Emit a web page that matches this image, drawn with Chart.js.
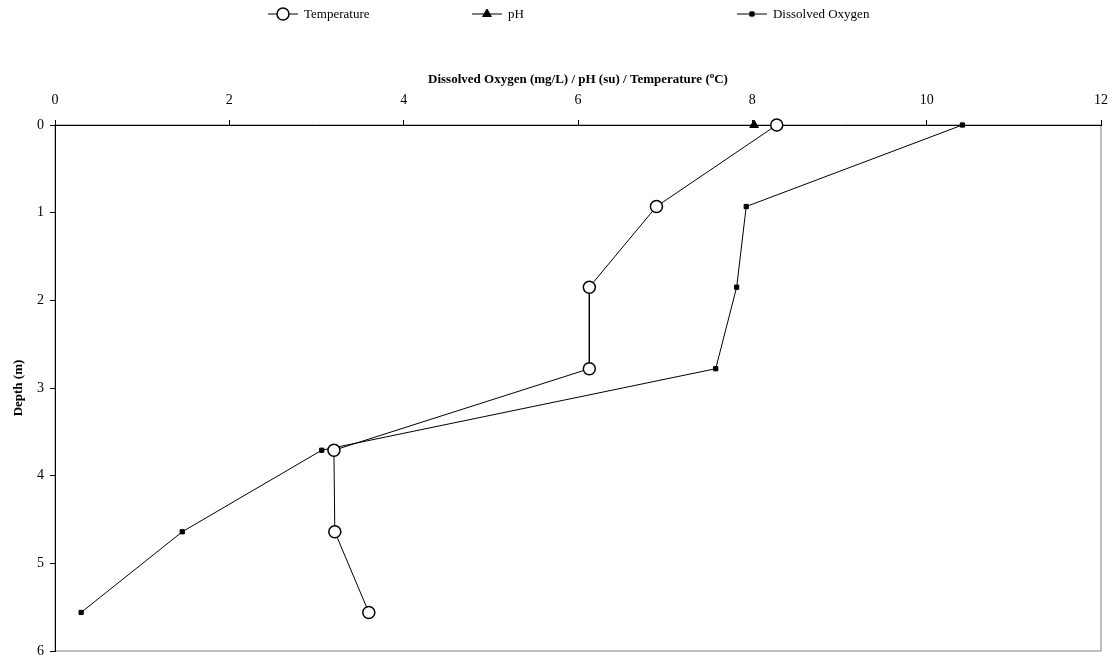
<!DOCTYPE html>
<html>
<head>
<meta charset="utf-8">
<script src="https://cdn.jsdelivr.net/npm/chart.js@4.4.1/dist/chart.umd.min.js"></script>
<style>
  html, body { margin: 0; padding: 0; background: #fff; }
  #wrap { width: 1119px; height: 669px; position: relative; }
</style>
</head>
<body>
<div id="wrap"><canvas id="grafico"></canvas></div>
<script>
// profundidades (m) y lecturas
const profundidad = [0, 0.93, 1.85, 2.78, 3.71, 4.64, 5.56];
const temperatura = [8.28, 6.90, 6.13, 6.13, 3.20, 3.21, 3.60];
const oxigeno = [10.41, 7.93, 7.82, 7.58, 3.06, 1.46, 0.30];
const phProfundidad = [0];
const ph = [8.02];

const xTicks = [0, 2, 4, 6, 8, 10, 12];
const yTicks = [0, 1, 2, 3, 4, 5, 6];
const etiquetas = ['Temperature', 'pH', 'Dissolved Oxygen'];

const fuente = "'Liberation Serif', 'Times New Roman', serif";

const aPuntos = (xs, ys) => xs.map((v, i) => ({ x: v, y: ys[i] }));

// leyenda estilo excel: linea + marcador + texto
const leyendaPlugin = {
    id: 'leyenda',
    afterDraw(chart) {
        const ctx = chart.ctx;
        const w = chart.width;
        const inicios = [0.2395 * w, 0.4218 * w, 0.6586 * w];
        const y = 14;
        ctx.save();
        ctx.font = `13px ${fuente}`;
        ctx.textBaseline = 'middle';
        chart.data.datasets.forEach((ds, i) => {
            const x0 = inicios[i];
            ctx.strokeStyle = '#000';
            ctx.lineWidth = 1;
            ctx.beginPath();
            ctx.moveTo(x0, y);
            ctx.lineTo(x0 + 30, y);
            ctx.stroke();
            ctx.fillStyle = ds.pointBackgroundColor;
            ctx.strokeStyle = ds.pointBorderColor;
            ctx.lineWidth = ds.pointBorderWidth;
            Chart.helpers.drawPoint(ctx, {
                pointStyle: ds.pointStyle,
                radius: ds.pointRadius,
                borderWidth: ds.pointBorderWidth
            }, x0 + 15, y);
            ctx.fillStyle = '#000';
            ctx.fillText(etiquetas[i], x0 + 36, y + 1);
        });
        ctx.restore();
    }
};

// borde del area de trazado + titulo del eje x con superindice
const marcoPlugin = {
    id: 'marco',
    beforeDraw(chart) {
        const { ctx, chartArea: a } = chart;
        ctx.save();
        ctx.strokeStyle = '#808080';
        ctx.lineWidth = 1;
        ctx.strokeRect(a.left, a.top, a.right - a.left, a.bottom - a.top);
        ctx.restore();
    },
    afterDraw(chart) {
        const { ctx, chartArea: a } = chart;
        const partes = ['Dissolved Oxygen (mg/L) / pH (su) / Temperature (', 'o', 'C)'];
        ctx.save();
        ctx.fillStyle = '#000';
        ctx.textBaseline = 'alphabetic';
        ctx.font = `bold 13px ${fuente}`;
        const w0 = ctx.measureText(partes[0]).width;
        const w2 = ctx.measureText(partes[2]).width;
        ctx.font = `bold 9px ${fuente}`;
        const w1 = ctx.measureText(partes[1]).width;
        let x = (a.left + a.right) / 2 - (w0 + w1 + w2) / 2;
        const y = 83;
        ctx.font = `bold 13px ${fuente}`;
        ctx.fillText(partes[0], x, y);
        x += w0;
        ctx.font = `bold 9px ${fuente}`;
        ctx.fillText(partes[1], x, y - 5);
        x += w1;
        ctx.font = `bold 13px ${fuente}`;
        ctx.fillText(partes[2], x, y);
        ctx.restore();
    }
};

const ctx = document.getElementById('grafico').getContext('2d');

new Chart(ctx, {
    type: 'line',
    data: {
        datasets: [
            {
                label: etiquetas[0],
                data: aPuntos(temperatura, profundidad),
                borderColor: '#000',
                borderWidth: 1,
                pointStyle: 'circle',
                pointRadius: 6,
                pointBorderWidth: 1.5,
                pointBackgroundColor: '#fff',
                pointBorderColor: '#000',
                clip: false
            },
            {
                label: etiquetas[1],
                data: aPuntos(ph, phProfundidad),
                borderColor: '#000',
                borderWidth: 1,
                pointStyle: 'triangle',
                pointRadius: 5,
                pointBorderWidth: 1,
                pointBackgroundColor: '#000',
                pointBorderColor: '#000',
                clip: false
            },
            {
                label: etiquetas[2],
                data: aPuntos(oxigeno, profundidad),
                borderColor: '#000',
                borderWidth: 1,
                pointStyle: 'rect',
                pointRadius: 3,
                pointBorderWidth: 1,
                pointBackgroundColor: '#000',
                pointBorderColor: '#000',
                clip: false
            }
        ]
    },
    options: {
        responsive: true,
        maintainAspectRatio: false,
        animation: false,
        layout: { padding: { top: 0, left: 0, right: 17, bottom: 18 } },
        plugins: {
            legend: { display: false },
            tooltip: { enabled: false }
        },
        scales: {
            x: {
                type: 'linear',
                position: 'top',
                min: xTicks[0],
                max: xTicks[xTicks.length - 1],
                ticks: {
                    stepSize: xTicks[1] - xTicks[0],
                    color: '#000',
                    font: { family: fuente, size: 14 },
                    padding: 11,
                    maxRotation: 0
                },
                grid: { drawOnChartArea: false, tickLength: 5, color: '#000' },
                border: { color: '#000', width: 1 },
                afterFit(scale) { scale.height = 125; }
            },
            y: {
                type: 'linear',
                reverse: true,
                min: yTicks[0],
                max: yTicks[yTicks.length - 1],
                ticks: {
                    stepSize: yTicks[1] - yTicks[0],
                    color: '#000',
                    font: { family: fuente, size: 14 },
                    padding: 6
                },
                title: {
                    display: true,
                    text: 'Depth (m)',
                    color: '#000',
                    font: { family: fuente, size: 13, weight: 'bold' },
                    padding: { top: 11, bottom: 0 }
                },
                grid: { drawOnChartArea: false, tickLength: 5, color: '#000' },
                border: { color: '#000', width: 1 },
                afterFit(scale) { scale.width = 55; }
            }
        }
    },
    plugins: [marcoPlugin, leyendaPlugin]
});
</script>
</body>
</html>
